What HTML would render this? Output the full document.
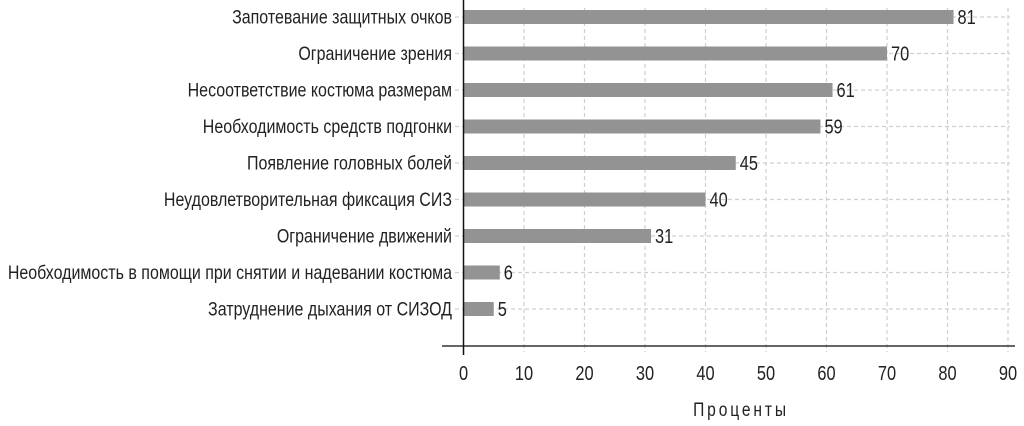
<!DOCTYPE html>
<html><head><meta charset="utf-8"><style>
html,body{margin:0;padding:0;background:#fff;}
svg{display:block;font-family:"Liberation Sans Narrow","Liberation Sans",sans-serif;}
</style></head><body>
<svg id="chart" width="1024" height="426" viewBox="0 0 1024 426" xmlns="http://www.w3.org/2000/svg"></svg>
<script>
const categories = ["Запотевание защитных очков","Ограничение зрения","Несоответствие костюма размерам","Необходимость средств подгонки","Появление головных болей","Неудовлетворительная фиксация СИЗ","Ограничение движений","Необходимость в помощи при снятии и надевании костюма","Затруднение дыхания от СИЗОД"];
const values = [81,70,61,59,45,40,31,6,5];
const ticks = [0,10,20,30,40,50,60,70,80,90];
const axisTitle = "Проценты";

const NS="http://www.w3.org/2000/svg";
const svg=document.getElementById('chart');
const x0=463.5, xPer=(1008-463.5)/90;
const xs=v=>x0+v*xPer;
const yTop=17, yStep=36.5;
const ys=i=>yTop+i*yStep;
const SX=0.82;
function mk(t,a,p){const e=document.createElementNS(NS,t);for(const k in a)e.setAttribute(k,a[k]);(p||svg).appendChild(e);return e;}
function txt(x,y,attrs){const g=mk('g',{transform:'translate('+x+','+y+') scale('+SX+',1)'});const t=mk('text',Object.assign({x:0,y:0,fill:'#222'},attrs),g);return t;}

const grid=mk('g',{});


ticks.forEach(t=>{ if(t===0) return;
  const l=mk('line',{x1:xs(t),x2:xs(t),y1:8,y2:352,stroke:'#cfcfcf','stroke-width':1.2,'stroke-dasharray':'4,3'},grid);
  
  
});
categories.forEach((c,i)=>{
  const l=mk('line',{x1:455,x2:1010,y1:ys(i),y2:ys(i),stroke:'#cfcfcf','stroke-width':1.2,'stroke-dasharray':'4,3'},grid);
  
  
});

categories.forEach((c,i)=>{
  const y=ys(i);
  const b=mk('rect',{x:x0,y:y-7,width:xs(values[i])-x0,height:14,fill:'#939393'});
  
  
  const vt=txt(xs(values[i])+4,y+7,{'font-size':20});
  vt.textContent=values[i];
  
  
  const ct=txt(452,y+6.5,{'font-size':19.5,'text-anchor':'end'});
  ct.textContent=c;
  
  
});

const xa=mk('line',{x1:442,x2:1015,y1:346,y2:346,stroke:'#333','stroke-width':1.5});


const ya=mk('line',{x1:x0,x2:x0,y1:0,y2:355,stroke:'#111','stroke-width':1.5});



ticks.forEach(t=>{
  const tt=txt(xs(t),380,{'font-size':20,'text-anchor':'middle'});
  tt.textContent=t;
  
  
});
const at=txt(741,416,{'font-size':19,'text-anchor':'middle','letter-spacing':3.5});
at.textContent=axisTitle;


</script>
</body></html>
